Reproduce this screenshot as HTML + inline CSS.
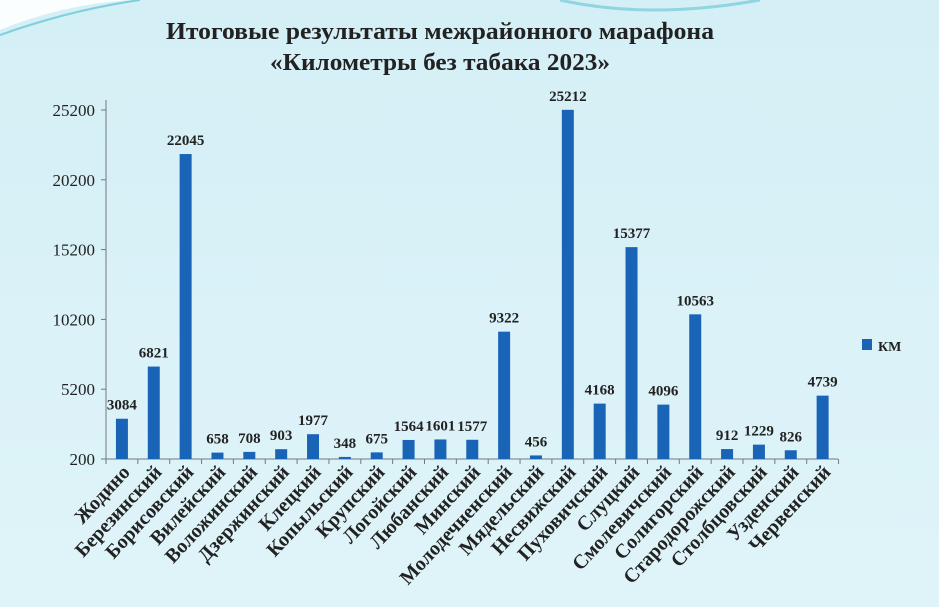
<!DOCTYPE html>
<html><head><meta charset="utf-8"><style>
html,body{margin:0;padding:0;width:939px;height:607px;overflow:hidden;background:#d9f1f7}
svg{display:block}
text{font-family:"Liberation Serif","DejaVu Serif",serif}
</style></head><body>
<svg id="s" width="939" height="607" xmlns="http://www.w3.org/2000/svg">
<defs><linearGradient id="bg" x1="0" y1="0" x2="0" y2="1"><stop offset="0" stop-color="#d4eff6"/><stop offset="1" stop-color="#dff4f9"/></linearGradient></defs>
<rect width="939" height="607" fill="url(#bg)"/>
<path d="M0,30 Q60,5 130,0 L0,0Z" fill="#ffffff" opacity="0.9"/>
<path d="M0,35 Q70,10 140,0" stroke="#7fd0dc" stroke-width="2" fill="none"/>
<path d="M560,0 Q650,20 760,0" stroke="#8fd6e0" stroke-width="3" fill="none"/>
<text x="440" y="39" text-anchor="middle" font-size="24" font-weight="bold" fill="#222" textLength="548" lengthAdjust="spacingAndGlyphs">Итоговые результаты межрайонного марафона</text>
<text x="440" y="70" text-anchor="middle" font-size="24" font-weight="bold" fill="#222" textLength="340" lengthAdjust="spacingAndGlyphs">«Километры без табака 2023»</text>
<g id="g"></g>
<rect x="862" y="339" width="10" height="11" fill="#1a64b8"/>
<text x="878" y="351" font-size="14" font-weight="bold" fill="#222">КМ</text>
</svg>
<script>
var n=["Жодино","Березинский","Борисовский","Вилейский","Воложинский","Дзержинский","Клецкий","Копыльский","Крупский","Логойский","Любанский","Минский","Молодечненский","Мядельский","Несвижский","Пуховичский","Слуцкий","Смолевичский","Солигорский","Стародорожский","Столбцовский","Узденский","Червенский"];
var v=[3084,6821,22045,658,708,903,1977,348,675,1564,1601,1577,9322,456,25212,4168,15377,4096,10563,912,1229,826,4739];
var y0=459,k=349/25000,x0=106,w=31.85,h='';
h+='<line x1="'+x0+'" y1="100" x2="'+x0+'" y2="'+y0+'" stroke="#777"/>';
h+='<line x1="'+x0+'" y1="'+y0+'" x2="838" y2="'+y0+'" stroke="#777"/>';
[200,5200,10200,15200,20200,25200].forEach(function(t){var y=y0-(t-200)*k;h+='<line x1="101" y1="'+y+'" x2="'+x0+'" y2="'+y+'" stroke="#777"/><text x="95" y="'+(y+6)+'" text-anchor="end" font-size="17" fill="#222">'+t+'</text>';});
for(var i=0;i<=23;i++){var x=x0+i*w;h+='<line x1="'+x+'" y1="'+y0+'" x2="'+x+'" y2="'+(y0+5)+'" stroke="#777"/>';}
for(var i=0;i<23;i++){var cx=x0+w*(i+0.5),bh=Math.max(2,(v[i]-200)*k),y=y0-bh;
h+='<rect x="'+(cx-6)+'" y="'+y+'" width="12" height="'+bh+'" fill="#1a64b8"/>';
h+='<text x="'+cx+'" y="'+(y-9)+'" text-anchor="middle" font-size="15" font-weight="bold" fill="#222">'+v[i]+'</text>';
h+='<text transform="translate('+(cx+9)+','+(y0+14)+') rotate(-47)" text-anchor="end" font-size="20" font-weight="bold" fill="#222">'+n[i]+'</text>';}
document.getElementById('g').innerHTML=h;
</script>
</body></html>
